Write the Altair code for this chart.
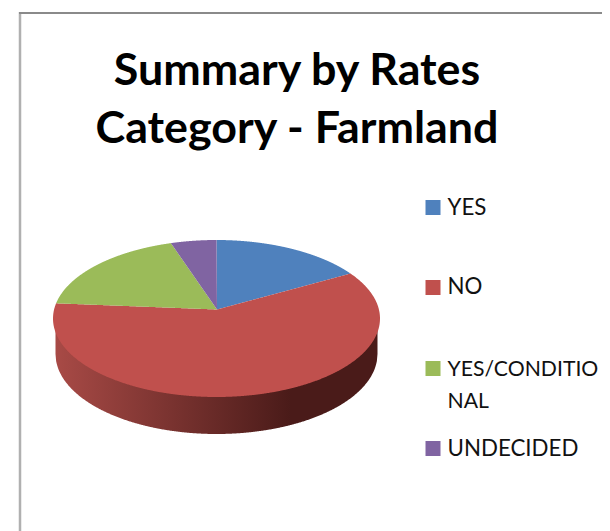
import altair as alt
import numpy as np
import pandas as pd

# Chart values
categories = ["YES", "NO", "YES/CONDITIONAL", "UNDECIDED"]
shares = [15.3, 62.8, 17.4, 4.5]
colors = ["#4F81BD", "#C0504D", "#9BBB59", "#8064A2"]
legend_labels = ["YES", "NO", "YES/CONDITIO\nNAL", "UNDECIDED"]
title_lines = ["Summary by Rates", "Category - Farmland"]

# Drawing geometry, in page pixels
W, H = 594, 523
CX, CY, RX, RY = 216.5, 318.5, 163.5, 78.5
AX, AY = 217.0, 309.5
BCY, BRX, BRY = 354.0, 161.0, 80.0


def wedge_rows(start, end):
    t = np.radians(np.linspace(start, end, 160))
    px = np.r_[AX, CX + RX * np.sin(t)]
    py = np.r_[AY, CY - RY * np.cos(t)]
    xs = np.unique(np.r_[px, np.linspace(px.min(), px.max(), 500)])
    rows = []
    qx, qy = np.roll(px, -1), np.roll(py, -1)
    for x in xs:
        hits = []
        for x0, y0, x1, y1 in zip(px, py, qx, qy):
            if min(x0, x1) <= x <= max(x0, x1):
                if x0 == x1:
                    hits += [y0, y1]
                else:
                    hits.append(y0 + (x - x0) / (x1 - x0) * (y1 - y0))
        if hits:
            rows.append({"x": x, "y": min(hits), "y2": max(hits)})
    return pd.DataFrame(rows)


wall_x = np.linspace(CX - BRX, CX + BRX, 500)
wall = pd.DataFrame({
    "x": wall_x,
    "y": np.full(500, CY),
    "y2": BCY + BRY * np.sqrt(np.clip(1 - ((wall_x - CX) / BRX) ** 2, 0, 1)),
})

xs = alt.Scale(domain=[8, 8 + W], nice=False, zero=False)
ys = alt.Scale(domain=[8 + H, 8], nice=False, zero=False)
X = alt.X("x:Q", scale=xs, axis=None)
Y = alt.Y("y:Q", scale=ys, axis=None)

wall_layer = alt.Chart(wall).mark_area(
    interpolate="linear",
    color=alt.Gradient(
        gradient="linear", x1=0, x2=1, y1=0, y2=0,
        stops=[
            alt.GradientStop(offset=0, color="#A84A46"),
            alt.GradientStop(offset=0.73, color="#4A1B19"),
            alt.GradientStop(offset=1, color="#4A1B19"),
        ],
    ),
).encode(x=X, y=Y, y2="y2:Q")

wedge_layers = []
angle = 0.0
for share, color in zip(shares, colors):
    wedge_layers.append(
        alt.Chart(wedge_rows(angle, angle + share * 3.6))
        .mark_area(interpolate="linear", color=color)
        .encode(x=X, y=Y, y2="y2:Q")
    )
    angle += share * 3.6

frame_left = alt.Chart(pd.DataFrame({"k": [0]})).mark_rule(color="#B0B0B0", strokeWidth=2.5).encode(
    x=alt.value(12), y=alt.value(4), y2=alt.value(H))
frame_top = alt.Chart(pd.DataFrame({"k": [0]})).mark_rule(color="#8A8A8A", strokeWidth=2).encode(
    x=alt.value(11), x2=alt.value(W), y=alt.value(5))

legend_layers = []
square_y = [199.5, 279.5, 360.5, 440.5]
text_y = [207, 286, 367.7, 447.6]
text_size = [22.3, 22.3, 21.2, 22.3]
for label, color, sy, ty, fs in zip(legend_labels, colors, square_y, text_y, text_size):
    one = pd.DataFrame({"label": [label]})
    legend_layers.append(
        alt.Chart(one).mark_square(size=225, opacity=1, color=color).encode(
            x=alt.value(425), y=alt.value(sy))
    )
    legend_layers.append(
        alt.Chart(one).mark_text(
            align="left", baseline="alphabetic", font="Lato", fontSize=fs,
            color="#111111", lineBreak="\n", lineHeight=32,
        ).encode(x=alt.value(439.5), y=alt.value(ty), text="label:N")
    )

chart = alt.layer(wall_layer, *wedge_layers, frame_left, frame_top, *legend_layers).properties(
    width=W,
    height=H,
    autosize=alt.AutoSizeParams(type="none"),
    padding=0,
    title=alt.TitleParams(
        text=title_lines, font="Lato", fontSize=44.8, fontWeight="bold", color="#000000",
        anchor="middle", lineHeight=58, dx=-8, dy=149,
    ),
).configure_view(stroke=None)

chart.save("out.html", embed_options={"renderer": "svg", "actions": False})
